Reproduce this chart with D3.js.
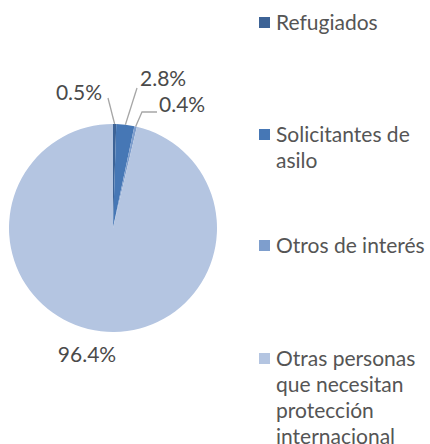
<!DOCTYPE html>
<html>
<head>
<meta charset="utf-8">
<script src="https://cdn.jsdelivr.net/npm/d3@7"></script>
<style>
  body { margin: 0; background: #fff; }
  svg { font-family: Lato, "Open Sans", sans-serif; }
</style>
</head>
<body>
<svg id="chart" width="430" height="444"></svg>
<script>
// data
const categories = ["Refugiados", "Solicitantes de asilo", "Otros de interés", "Otras personas que necesitan protección internacional"];
const values = [0.5, 2.8, 0.4, 96.4];
const valueLabels = ["0.5%", "2.8%", "0.4%", "96.4%"];
const legendLines = [
  ["Refugiados"],
  ["Solicitantes de", "asilo"],
  ["Otros de interés"],
  ["Otras personas", "que necesitan", "protección", "internacional"]
];
const colors = ["#3d6396", "#4677b5", "#7e9ecd", "#b4c5e1"];

const svg = d3.select("#chart");
const cx = 113, cy = 228, radius = 104;

const pie = d3.pie().sort(null).value(d => d)(values);
const arc = d3.arc().innerRadius(0).outerRadius(radius);
const edge = d3.arc().innerRadius(radius).outerRadius(radius);

const g = svg.append("g").attr("transform", `translate(${cx},${cy})`);

g.selectAll("path.slice")
  .data(pie)
  .enter()
  .append("path")
  .attr("class", "slice")
  .attr("d", arc)
  .attr("fill", (d, i) => colors[i]);

// label layout (relative to pie centre): text anchor point + leader polyline
const labelLayout = [
  { tx: -34, ty: -128, anchor: "middle", line: [[-5, -130]] },
  { tx: 27, ty: -142, anchor: "start", line: [[24, -140]] },
  { tx: 46, ty: -116, anchor: "start", line: [[29, -116], [44, -116]] },
  { tx: -26, ty: 134, anchor: "middle", line: null }
];

pie.forEach((d, i) => {
  const L = labelLayout[i];
  if (L.line) {
    const p = edge.centroid(d);
    g.append("polyline")
      .attr("points", [p].concat(L.line).map(q => q.join(",")).join(" "))
      .attr("fill", "none")
      .attr("stroke", "#a6a6a6")
      .attr("stroke-width", 1.3);
  }
  g.append("text")
    .attr("x", L.tx)
    .attr("y", L.ty)
    .attr("text-anchor", L.anchor)
    .style("font-size", "21px")
    .style("fill", "#4a4a4a")
    .text(valueLabels[i]);
});

// legend
const legendY = [30, 142, 253, 366];
const legend = svg.append("g");
categories.forEach((c, i) => {
  legend.append("rect")
    .attr("x", 259)
    .attr("y", legendY[i] - 13)
    .attr("width", 11)
    .attr("height", 11)
    .attr("fill", colors[i]);
  legend.append("text")
    .attr("x", 276)
    .attr("y", legendY[i])
    .style("font-size", "21px")
    .style("fill", "#555")
    .selectAll("tspan")
    .data(legendLines[i])
    .enter()
    .append("tspan")
    .attr("x", 276)
    .attr("dy", (d, j) => j === 0 ? 0 : 26)
    .text(d => d);
});
</script>
</body>
</html>
